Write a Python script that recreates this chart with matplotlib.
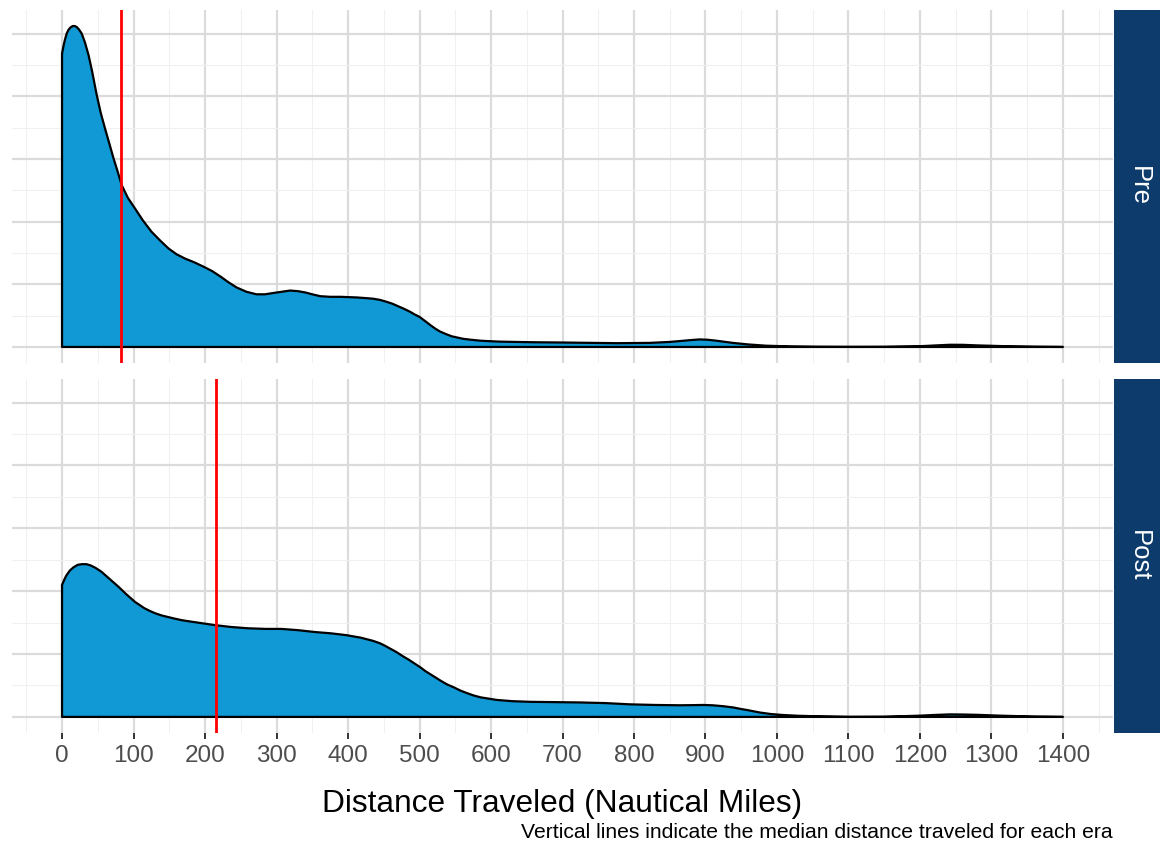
import matplotlib
matplotlib.use("Agg")
import matplotlib.pyplot as plt
import numpy as np

# * Data (density, in units of 1e-3 per nautical mile)
pre_miles = [0, 2, 4, 6.5, 9, 12, 15, 18, 21, 24, 27.5, 32, 37, 42, 48.5, 54,
             60, 66, 72, 78, 83.5, 92, 102, 113, 125, 137, 149, 160, 172, 185,
             198, 210, 222, 233, 244, 258, 272, 284, 295, 307, 319, 330, 340,
             350, 361, 375, 390, 400, 412, 424, 435, 445, 454, 462, 470, 478,
             487, 493, 500, 507, 515, 521, 528, 536, 545, 553, 561, 572, 585,
             598, 612, 635, 660, 706, 776, 822, 850, 870, 882, 892, 903, 915,
             927, 939, 960, 985, 1020, 1056, 1100, 1150, 1200, 1225, 1242,
             1260, 1280, 1320, 1360, 1400]
pre_density = [4.68, 4.80, 4.90, 5.00, 5.06, 5.10, 5.12, 5.12, 5.10, 5.06,
               5.00, 4.86, 4.66, 4.40, 4.02, 3.74, 3.49, 3.25, 3.01, 2.79,
               2.58, 2.38, 2.21, 2.02, 1.84, 1.70, 1.57, 1.48, 1.41, 1.35,
               1.28, 1.21, 1.12, 1.03, 0.95, 0.88, 0.84, 0.84, 0.86, 0.88,
               0.90, 0.89, 0.87, 0.84, 0.81, 0.80, 0.80, 0.795, 0.79, 0.78,
               0.77, 0.75, 0.72, 0.69, 0.65, 0.61, 0.56, 0.52, 0.48, 0.42,
               0.35, 0.30, 0.25, 0.21, 0.17, 0.15, 0.13, 0.115, 0.10, 0.092,
               0.085, 0.08, 0.075, 0.07, 0.06, 0.065, 0.08, 0.10, 0.112, 0.12,
               0.115, 0.10, 0.082, 0.064, 0.04, 0.02, 0.008, 0.003, 0.001,
               0.002, 0.012, 0.026, 0.035, 0.034, 0.025, 0.012, 0.004, 0.0]

post_miles = [0, 3, 6, 11, 16, 22, 28, 34, 40, 47, 55, 62, 70, 79, 90, 102,
              115, 123, 130, 139, 148, 157, 167, 178, 190, 214, 237, 260, 285,
              307, 330, 354, 376, 398, 418, 435, 445, 452, 460, 468, 476, 485,
              493, 501, 508, 515, 522, 529, 538, 548, 557, 566, 576, 586, 597,
              608, 630, 655, 690, 724, 760, 794, 830, 864, 880, 897, 910, 925,
              939, 950, 958, 967, 976, 992, 1009, 1030, 1056, 1100, 1149, 1200,
              1222, 1242, 1260, 1280, 1312, 1360, 1400]
post_density = [2.10, 2.18, 2.25, 2.33, 2.38, 2.42, 2.43, 2.43, 2.41, 2.37,
                2.31, 2.24, 2.16, 2.07, 1.95, 1.83, 1.73, 1.685, 1.65, 1.615,
                1.59, 1.565, 1.54, 1.52, 1.50, 1.46, 1.43, 1.41, 1.40, 1.40,
                1.38, 1.35, 1.33, 1.30, 1.26, 1.21, 1.17, 1.13, 1.08, 1.03,
                0.97, 0.91, 0.85, 0.79, 0.73, 0.68, 0.63, 0.58, 0.52, 0.47,
                0.42, 0.38, 0.34, 0.31, 0.29, 0.27, 0.25, 0.24, 0.235, 0.23,
                0.22, 0.20, 0.19, 0.185, 0.187, 0.19, 0.185, 0.17, 0.15, 0.125,
                0.11, 0.09, 0.07, 0.045, 0.03, 0.018, 0.01, 0.0, 0.002, 0.02,
                0.032, 0.04, 0.038, 0.033, 0.02, 0.005, 0.0]

eras = ["Pre", "Post"]
medians = [82.5, 216]
x_ticks = list(range(0, 1401, 100))

# * Style
FILL = "#1199D5"
STRIP = "#0D3B6C"
FONT = ["Liberation Sans", "DejaVu Sans"]
plt.rcParams["font.family"] = FONT

W, H = 1160, 843
fig = plt.figure(figsize=(W / 100, H / 100), dpi=100)

# panel boxes in pixels: (top, bottom)
panels = [(10, 363), (379, 733)]
left_px, right_px = 12, 1113

ymax = max(max(pre_density), max(post_density))
ylim = (-0.05 * ymax, 1.05 * ymax)
xlim = (-0.05 * 1400, 1.05 * 1400)

series = [(pre_miles, pre_density), (post_miles, post_density)]

for i, (top, bot) in enumerate(panels):
    ax = fig.add_axes([left_px / W, (H - bot) / H,
                       (right_px - left_px) / W, (bot - top) / H])
    ax.set_xticks(x_ticks)
    ax.set_xticks(np.arange(-50, 1451, 100), minor=True)
    ax.set_yticks(np.arange(0, 5.01, 1.0))
    ax.set_yticks(np.arange(0.5, 4.6, 1.0), minor=True)
    # limits after ticks, set_ticks would widen them
    ax.set_xlim(xlim)
    ax.set_ylim(ylim)
    ax.grid(which="major", color="#DBDBDB", lw=1.6)
    ax.grid(which="minor", color="#F0F0F0", lw=0.8)
    ax.set_axisbelow(True)
    for s in ax.spines.values():
        s.set_visible(False)
    ax.tick_params(axis="y", which="both", left=False, labelleft=False)
    ax.tick_params(axis="x", which="minor", bottom=False)
    if i == 0:
        ax.tick_params(axis="x", which="major", bottom=False, labelbottom=False)
    else:
        ax.tick_params(axis="x", which="major", length=4.5, width=1.4,
                       color="#333333", labelsize=17.5, labelcolor="#4D4D4D",
                       pad=4)

    mx, dens = series[i]
    px = [mx[0]] + list(mx) + [mx[0]]
    py = [0] + list(dens) + [0]
    ax.fill(px, py, facecolor=FILL, edgecolor="black", lw=1.6,
            joinstyle="round", zorder=2)
    ax.axvline(medians[i], color="#FF0000", lw=2.0, zorder=3)

    # facet strip on the right
    sax = fig.add_axes([1114 / W, (H - bot) / H, (W - 1114) / W, (bot - top) / H])
    sax.set_facecolor(STRIP)
    sax.set_xticks([])
    sax.set_yticks([])
    for s in sax.spines.values():
        s.set_visible(False)
    sax.text(0.55, 0.5, eras[i], rotation=-90, color="white", fontsize=18.5,
             ha="center", va="center", transform=sax.transAxes)

fig.text((left_px + right_px) / 2 / W, (H - 812) / H,
         "Distance Traveled (Nautical Miles)", ha="center", va="baseline",
         fontsize=22.8, color="black")
fig.text(right_px / W, (H - 838) / H,
         "Vertical lines indicate the median distance traveled for each era",
         ha="right", va="baseline", fontsize=15.2, color="black")

fig.savefig("out.png", dpi=100)
